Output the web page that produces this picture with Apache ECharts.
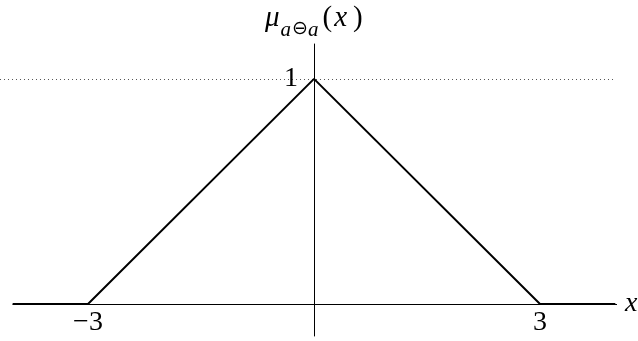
<!DOCTYPE html>
<html>
<head>
<meta charset="utf-8">
<script src="https://cdn.jsdelivr.net/npm/echarts@6/dist/echarts.min.js"></script>
<style>
  html, body { margin: 0; padding: 0; background: #fff; }
  #chart { width: 638px; height: 341px; }
</style>
</head>
<body>
<div id="chart"></div>
<script>
// Membership function of a ⊖ a: triangular on [-3, 3], zero outside
const xValues = [-4, -3, 0, 3, 4];
const muValues = [0, 0, 1, 0, 0];
const xTickLabels = [-3, 3];
const yTickLabels = [1];
const peakLevel = 1;

const xMin = -4.168, xMax = 4.022;
const yMin = -0.142, yMax = 1.155;
const FONT = 'Liberation Serif';

const chart = echarts.init(document.getElementById('chart'), null, { renderer: 'canvas' });

const main = { fontFamily: FONT, fontWeight: 'normal', fontSize: 29, color: '#000', lineHeight: 34, verticalAlign: 'top' };
const sub = { fontFamily: FONT, fontWeight: 'normal', fontStyle: 'italic', fontSize: 21, color: '#000', lineHeight: 22, verticalAlign: 'top', padding: [16, 0, 0, 0] };
const fmt = v => (v < 0 ? '\u2212' + Math.abs(v) : String(v));

function render() {
  chart.setOption({
    animation: false,
    backgroundColor: '#ffffff',
    title: {
      left: 265,
      top: 4,
      padding: 0,
      text: '{mu|μ}{sub|a}{op|⊖}{sub|a}{p|(}{it|x}{p|)}',
      textStyle: {
        fontFamily: FONT,
        fontWeight: 'normal',
        rich: {
          mu: Object.assign({}, main, { fontStyle: 'italic', padding: [0, 1, 0, 0] }),
          sub: sub,
          op: Object.assign({}, sub, { fontFamily: 'DejaVu Sans', fontStyle: 'normal', fontSize: 19, padding: [16, 0, 0, 1] }),
          p: Object.assign({}, main, { padding: [0, 1, 0, 4] }),
          it: Object.assign({}, main, { fontStyle: 'italic', padding: [0, 2, 0, 1] })
        }
      }
    },
    grid: { left: 0, right: 21, top: 44, bottom: 5, containLabel: false, outerBoundsMode: 'none' },
    xAxis: {
      type: 'value',
      min: xMin,
      max: xMax,
      name: 'x',
      nameLocation: 'end',
      nameGap: 8,
      nameTextStyle: { fontFamily: FONT, fontStyle: 'italic', fontSize: 28, color: '#000', padding: [0, 0, 11, 0] },
      axisLine: { show: false },
      axisTick: { show: false },
      splitLine: { show: false },
      axisLabel: { show: false }
    },
    yAxis: {
      type: 'value',
      min: yMin,
      max: yMax,
      axisLine: { show: true, onZero: true, lineStyle: { color: '#000', width: 1 } },
      axisTick: { show: false },
      splitLine: { show: false },
      axisLabel: { show: false }
    },
    series: [
      {
        type: 'line',
        data: xValues.map((x, i) => [x, muValues[i]]),
        showSymbol: false,
        lineStyle: { color: '#000', width: 2 },
        z: 5,
        markPoint: {
          silent: true,
          symbol: 'circle',
          symbolSize: 0,
          label: {
            show: true,
            fontFamily: FONT,
            fontSize: 28,
            color: '#000',
            formatter: p => fmt(p.value)
          },
          data: yTickLabels.map(v => ({
            coord: [0, v], value: v,
            label: { position: 'left', distance: 16 }
          })).concat(xTickLabels.map(v => ({
            coord: [v, 0], value: v,
            label: { position: 'bottom', distance: 5 }
          })))
        },
        markLine: {
          silent: true,
          symbol: 'none',
          label: { show: false },
          data: [
            // horizontal axis
            [
              { coord: [xValues[0], 0], lineStyle: { type: 'solid', color: '#000', width: 1 } },
              { coord: [xMax, 0] }
            ],
            // dotted guide at the peak level
            [
              { coord: [xMin, peakLevel], lineStyle: { type: [1, 3], color: '#555', width: 1 } },
              { coord: [xMax - 0.03, peakLevel] }
            ]
          ]
        }
      }
    ]
  }, true);
}

render();
if (document.fonts && document.fonts.load) {
  Promise.all([
    document.fonts.load('28px "Liberation Serif"'),
    document.fonts.load('italic 28px "Liberation Serif"')
  ]).then(render, render);
}
</script>
</body>
</html>
